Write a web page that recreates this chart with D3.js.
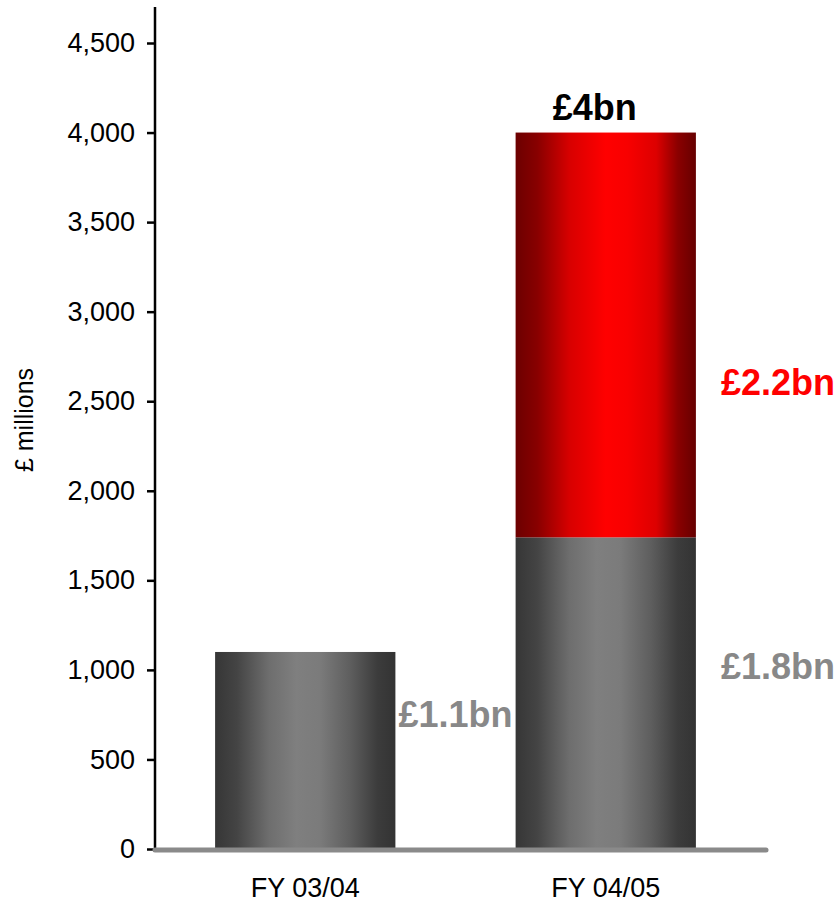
<!DOCTYPE html>
<html>
<head>
<meta charset="utf-8">
<script src="https://cdn.jsdelivr.net/npm/d3@7"></script>
<style>
  body { margin: 0; background: #fff; }
  text { font-family: "Liberation Sans", Arial, sans-serif; }
</style>
</head>
<body>
<div id="chart"></div>
<script>
// chart values
var categories = ["FY 03/04", "FY 04/05"];
var baseValues = [1100, 1740];     // grey part
var extraValues = [0, 2260];       // red part
var totals = [1100, 4000];
var yTicks = [0, 500, 1000, 1500, 2000, 2500, 3000, 3500, 4000, 4500];
var baseLabels = ["£1.1bn", "£1.8bn"];
var extraLabel = "£2.2bn";
var totalLabel = "£4bn";

var W = 838, H = 902;

var svg = d3.select("#chart").append("svg")
  .attr("width", W)
  .attr("height", H);

var defs = svg.append("defs");

function addGradient(id, stops) {
  var g = defs.append("linearGradient")
    .attr("id", id)
    .attr("x1", "0%").attr("x2", "100%")
    .attr("y1", "0%").attr("y2", "0%");
  stops.forEach(function (s) {
    g.append("stop").attr("offset", s[0]).attr("stop-color", s[1]);
  });
}

addGradient("greyGrad", [
  ["0%", "#363636"], ["12%", "#444444"], ["30%", "#6e6e6e"], ["45%", "#7f7f7f"],
  ["58%", "#7b7b7b"], ["75%", "#5e5e5e"], ["90%", "#3c3c3c"], ["100%", "#333333"]
]);
addGradient("redGrad", [
  ["0%", "#6c0000"], ["12%", "#880000"], ["30%", "#d80000"], ["50%", "#ff0000"],
  ["62%", "#f80000"], ["78%", "#dd0000"], ["90%", "#8a0000"], ["100%", "#660000"]
]);

var x = d3.scaleBand()
  .domain(categories)
  .range([155, 756])
  .paddingInner(0.4)
  .paddingOuter(0.2);

var y = d3.scaleLinear()
  .domain([0, 4500])
  .range([849, 43]);

// y axis
var yAxis = d3.axisLeft(y)
  .tickValues(yTicks)
  .tickSize(8)
  .tickPadding(12)
  .tickFormat(d3.format(","));

var gy = svg.append("g")
  .attr("transform", "translate(155,0)")
  .call(yAxis);
gy.select(".domain").remove();
gy.selectAll(".tick line").attr("stroke", "#000").attr("stroke-width", 2.5);
gy.selectAll(".tick text")
  .attr("fill", "#000")
  .style("font-size", "27px")
  .style("font-family", "'Liberation Sans', Arial, sans-serif");

svg.append("line")
  .attr("x1", 155).attr("x2", 155)
  .attr("y1", 7).attr("y2", y(0))
  .attr("stroke", "#000")
  .attr("stroke-width", 2.5);

svg.append("text")
  .attr("transform", "translate(33,420) rotate(-90)")
  .attr("text-anchor", "middle")
  .style("font-size", "25px")
  .text("£ millions");

// bars
svg.selectAll(".base")
  .data(categories)
  .enter().append("rect")
  .attr("class", "base")
  .attr("x", function (d) { return x(d); })
  .attr("width", x.bandwidth())
  .attr("y", function (d, i) { return y(baseValues[i]); })
  .attr("height", function (d, i) { return y(0) - y(baseValues[i]); })
  .attr("fill", "url(#greyGrad)");

svg.selectAll(".extra")
  .data(categories)
  .enter().append("rect")
  .attr("class", "extra")
  .attr("x", function (d) { return x(d); })
  .attr("width", x.bandwidth())
  .attr("y", function (d, i) { return y(baseValues[i] + extraValues[i]); })
  .attr("height", function (d, i) { return y(baseValues[i]) - y(baseValues[i] + extraValues[i]); })
  .attr("fill", "url(#redGrad)")
  .style("display", function (d, i) { return extraValues[i] > 0 ? null : "none"; });

// baseline
svg.append("line")
  .attr("x1", 155).attr("x2", 766)
  .attr("y1", y(0) + 1).attr("y2", y(0) + 1)
  .attr("stroke", "#8a8a8a")
  .attr("stroke-width", 5)
  .attr("stroke-linecap", "round");

// x labels
svg.selectAll(".xlab")
  .data(categories)
  .enter().append("text")
  .attr("class", "xlab")
  .attr("x", function (d) { return x(d) + x.bandwidth() / 2; })
  .attr("y", 897)
  .attr("text-anchor", "middle")
  .style("font-size", "27px")
  .text(function (d) { return d; });

// value labels
var boldStyle = function (sel) {
  sel.style("font-size", "36px").style("font-weight", "bold");
};

svg.append("text")
  .attr("x", x(categories[0]) + x.bandwidth() + 3)
  .attr("y", y(baseValues[0] / 2) - 23)
  .attr("fill", "#888888")
  .call(boldStyle)
  .text(baseLabels[0]);

svg.append("text")
  .attr("x", x(categories[1]) + x.bandwidth() + 25)
  .attr("y", y(baseValues[1] / 2) - 14)
  .attr("fill", "#888888")
  .call(boldStyle)
  .text(baseLabels[1]);

svg.append("text")
  .attr("x", x(categories[1]) + x.bandwidth() + 25)
  .attr("y", y(baseValues[1] + extraValues[1] / 2) + 60)
  .attr("fill", "#ff0000")
  .call(boldStyle)
  .text(extraLabel);

svg.append("text")
  .attr("x", x(categories[1]) + x.bandwidth() / 2 - 11)
  .attr("y", y(totals[1]) - 13)
  .attr("text-anchor", "middle")
  .attr("fill", "#000")
  .call(boldStyle)
  .text(totalLabel);
</script>
</body>
</html>
